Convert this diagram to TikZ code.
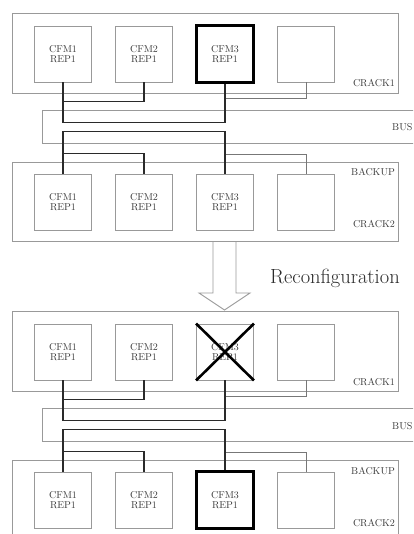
\documentclass[tikz,border=0pt]{standalone}
\usepackage{tikz}
\usetikzlibrary{positioning}
\definecolor{rackgray}{HTML}{999999}
\definecolor{wiredark}{HTML}{2A2A2A}
\definecolor{wiregray}{HTML}{777777}
\definecolor{inkgray}{HTML}{3C3C3C}

\begin{document}
\begin{tikzpicture}[x=1pt,y=-1pt,
    rack/.style={draw=rackgray,line width=0.9pt,inner sep=0pt},
    cfm/.style={draw=rackgray,line width=0.9pt,minimum width=57pt,minimum height=56pt,
      inner sep=0pt,align=center,text=inkgray,font=\fontsize{10}{10.5}\selectfont},
    tag/.style={text=inkgray,inner sep=0pt,font=\fontsize{10}{10.5}\selectfont},
    wire/.style={draw=wiredark,line width=1.1pt},
    spare/.style={draw=wiregray,line width=0.8pt},
    heavy/.style={draw=black,line width=3pt},
    strike/.style={draw=black,line width=2.6pt}]
  \clip (0,0) rectangle (413,534);
  \fill[white] (0,0) rectangle (413,534);
  \foreach \p/\dy in {a/0,b/298} {
    \begin{scope}[yshift=-\dy pt]
      % racks and bus
      \node[rack,minimum width=386pt,minimum height=80pt] (crackup-\p) at (205,53) {};
      \node[rack,minimum width=378pt,minimum height=33pt] (bus-\p) at (231,126.5) {};
      \node[rack,minimum width=386pt,minimum height=79pt] (crackdn-\p) at (205,201.5) {};
      \node[tag,anchor=base east] (lblup-\p) at (395,87) {CRACK1};
      \node[tag,anchor=base west] (lblbus-\p) at (392,131) {BUS};
      \node[tag,anchor=base east] (lblbk-\p) at (395,176) {BACKUP};
      \node[tag,anchor=base east] (lbldn-\p) at (395,228) {CRACK2};
      % modules
      \foreach \i/\x/\t in {1/63/{CFM1\\REP1},2/144/{CFM2\\REP1},3/225/{CFM3\\REP1},4/306/{}} {
        \node[cfm] (up\p\i) at (\x,54) {\t};
        \node[cfm] (dn\p\i) at (\x,202) {\t};
      }
      % links to the bus
      \draw[spare] (up\p3.south) -- ++(0,16) -| (up\p4.south);
      \draw[wire] (up\p1.south) -- ++(0,19) -| (up\p2.south);
      \draw[wire] (up\p1.south) -- ++(0,40) -| (up\p3.south);
      \draw[spare] (dn\p3.north) -- ++(0,-19) -| (dn\p4.north);
      \draw[wire] (dn\p1.north) -- ++(0,-20) -| (dn\p2.north);
      \draw[wire] (dn\p1.north) -- ++(0,-42) -| (dn\p3.north);
    \end{scope}
  }
  % active and failed modules
  \draw[heavy] (upa3.south west) rectangle (upa3.north east);
  \draw[heavy] (dnb3.south west) rectangle (dnb3.north east);
  \draw[strike] (upb3.north west) -- (upb3.south east);
  \draw[strike] (upb3.south west) -- (upb3.north east);
  % reconfiguration arrow
  \draw[draw=rackgray,line width=0.9pt,fill=white]
    (213,242) -- (213,293) -- (199,293) -- (224.5,310) -- (250,293) -- (236,293) -- (236,242);
  \node[anchor=base west,inner sep=0pt,text=wiredark,font=\fontsize{20.5}{22}\selectfont] (reconf) at (270,283) {Reconfiguration};
\end{tikzpicture}
\end{document}
